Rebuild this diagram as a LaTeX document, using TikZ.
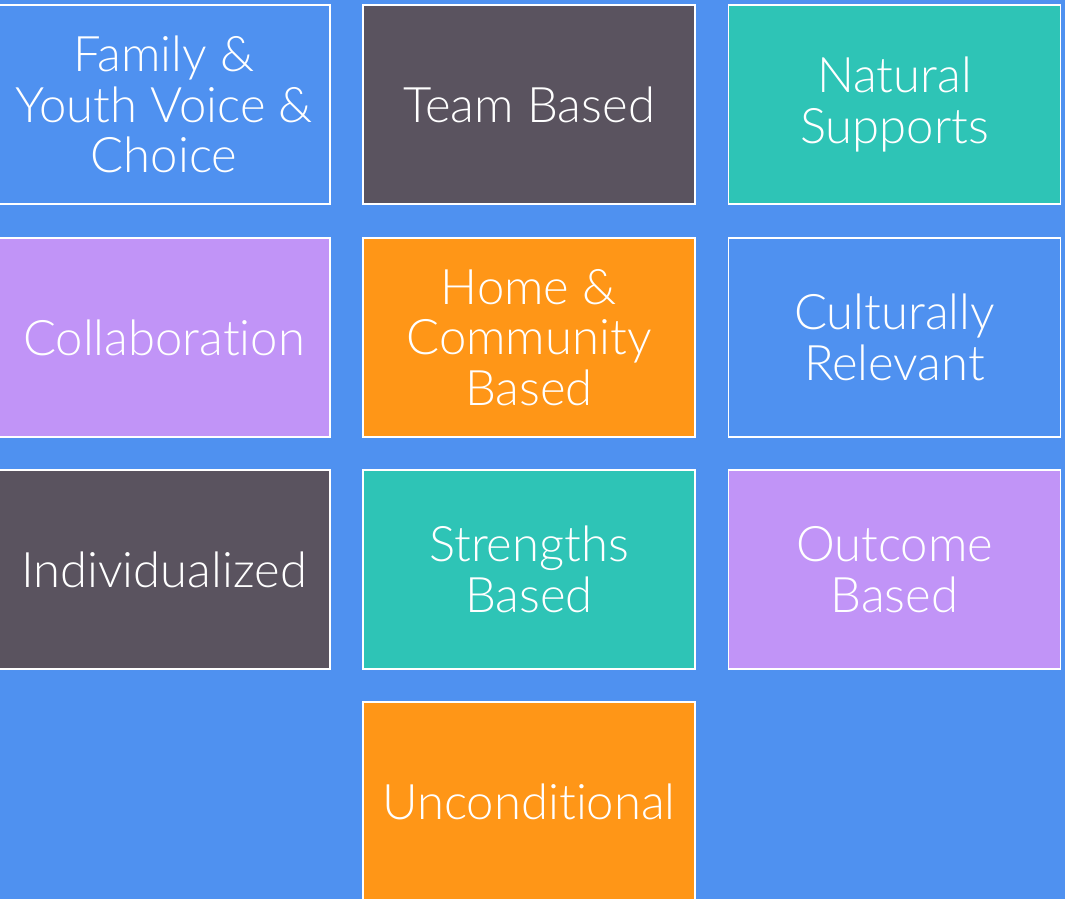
\documentclass[tikz,border=0pt]{standalone}
\usepackage{fontspec}
\setmainfont{Lato}[UprightFont=* Light, Ligatures=NoCommon]
\definecolor{bgblue}{HTML}{4F91F0}
\definecolor{slate}{HTML}{5A535F}
\definecolor{teal}{HTML}{2EC4B6}
\definecolor{lilac}{HTML}{C194F7}
\definecolor{amber}{HTML}{FF9617}
\tikzset{
  tile/.style={draw=white, line width=1.4pt, minimum width=332pt, minimum height=199pt,
    inner sep=0pt, align=center, text=white, font=\fontsize{49}{50.5}\selectfont},
}
\begin{document}
\begin{tikzpicture}[x=1pt,y=-1pt]
\fill [bgblue] (0,0) rectangle (1065,899);
\useasboundingbox (0,0) rectangle (1065,899);

% rang 1
\node [tile, fill=bgblue] (family) at (164,104.5) {Family \&\\Youth Voice \&\\Choice};
\node [tile, fill=slate] (team) at (529,104.5) {Team Based};
\node [tile, fill=teal] (natural) at (894.5,104.5) {Natural\\Supports};
% rang 2
\node [tile, fill=lilac] (collab) at (164,337.5) {Collaboration};
\node [tile, fill=amber] (home) at (529,337.5) {Home \&\\Community\\Based};
\node [tile, fill=bgblue] (culture) at (894.5,337.5) {Culturally\\Relevant};
% rang 3
\node [tile, fill=slate] (indiv) at (164,569.5) {Individualized};
\node [tile, fill=teal] (strength) at (529,569.5) {Strengths\\Based};
\node [tile, fill=lilac] (outcome) at (894.5,569.5) {Outcome\\Based};
% rang 4
\node [tile, fill=amber] (uncond) at (529,801.5) {Unconditional};
\end{tikzpicture}
\end{document}
